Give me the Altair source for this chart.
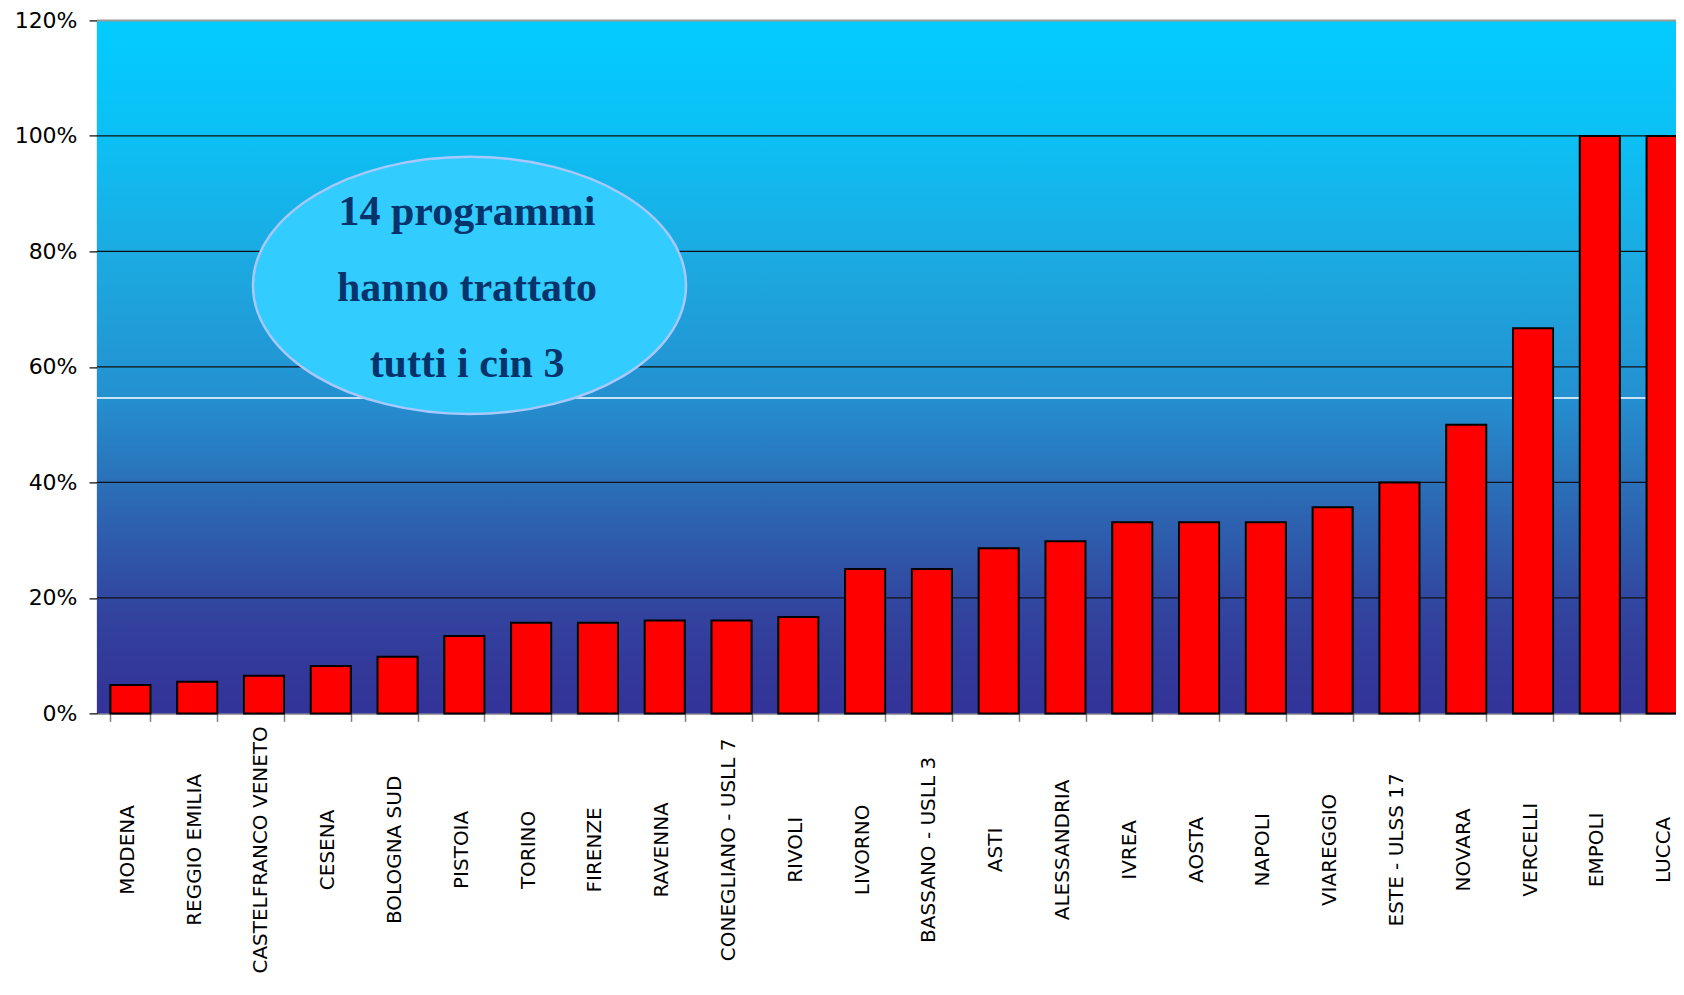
import altair as alt
import pandas as pd

categories = ["MODENA", "REGGIO EMILIA", "CASTELFRANCO VENETO", "CESENA", "BOLOGNA SUD",
              "PISTOIA", "TORINO", "FIRENZE", "RAVENNA", "CONEGLIANO - USLL 7", "RIVOLI",
              "LIVORNO", "BASSANO - USLL 3", "ASTI", "ALESSANDRIA", "IVREA", "AOSTA",
              "NAPOLI", "VIAREGGIO", "ESTE - ULSS 17", "NOVARA", "VERCELLI", "EMPOLI", "LUCCA"]
values = [0.049, 0.055, 0.065, 0.082, 0.098, 0.134, 0.157, 0.157, 0.161, 0.161, 0.167,
          0.25, 0.25, 0.286, 0.298, 0.331, 0.331, 0.331, 0.357, 0.40, 0.50, 0.667, 1.0, 1.0]
y_ticks = [0, 0.2, 0.4, 0.6, 0.8, 1.0, 1.2]
grid_values = [0.2, 0.4, 0.6, 0.8, 1.0]
light_line = [0.546]
note_lines = ["14 programmi", "hanno trattato", "tutti i cin 3"]

W = 1579
H = 693
X_RANGE = 1603

df = pd.DataFrame({"programma": categories, "valore": values})

yscale = alt.Scale(domain=[0, 1.2], nice=False)
yaxis = alt.Axis(
    title=None, values=y_ticks, format=".0%", grid=False,
    labelFont="DejaVu Sans", labelFontSize=22, labelColor="#000000",
    labelPadding=12, tickSize=8, tickColor="#000000", tickWidth=1.2,
    domainColor="#000000", domainWidth=1.2,
)

gradient = alt.LinearGradient(
    gradient="linear", x1=0, x2=0, y1=0, y2=1,
    stops=[
        alt.GradientStop(offset=0.0, color="#02CCFF"),
        alt.GradientStop(offset=0.167, color="#0CC0F4"),
        alt.GradientStop(offset=0.335, color="#1BABE2"),
        alt.GradientStop(offset=0.544, color="#2490D0"),
        alt.GradientStop(offset=0.667, color="#2B70B8"),
        alt.GradientStop(offset=0.833, color="#3147A0"),
        alt.GradientStop(offset=0.92, color="#333A99"),
        alt.GradientStop(offset=1.0, color="#333399"),
    ],
)

one = alt.Data(values=[{}])

background = alt.Chart(one).mark_rect(color=gradient).encode(
    x=alt.value(0), x2=alt.value(W),
    y=alt.datum(0, type="quantitative", scale=yscale, axis=yaxis),
    y2=alt.datum(1.2),
)

white_line = alt.Chart(pd.DataFrame({"v": light_line})).mark_rule(
    color="#FFFFFF", strokeWidth=1.5
).encode(y=alt.Y("v:Q", scale=yscale, axis=yaxis))

grid = alt.Chart(pd.DataFrame({"v": grid_values})).mark_rule(
    color="#111111", strokeWidth=1.2
).encode(y=alt.Y("v:Q", scale=yscale, axis=yaxis))

top_rule = alt.Chart(one).mark_rule(color="#999999", strokeWidth=2).encode(
    y=alt.datum(1.2, type="quantitative", scale=yscale, axis=yaxis)
)

bars = alt.Chart(df).mark_bar(
    color="#FF0000", stroke="#000000", strokeWidth=2, clip=False
).encode(
    x=alt.X(
        "programma:N", sort=None,
        scale=alt.Scale(range=[0, X_RANGE], paddingInner=0.4, paddingOuter=0.2),
        axis=alt.Axis(
            title=None, labelAngle=270, labelAlign="center", labelBaseline="middle",
            labelPadding=128, labelOffset=-3, labelLimit=500, labelOverlap=False,
            labelFlush=False, labelFont="DejaVu Sans", labelFontSize=20,
            labelColor="#000000",
            tickBand="extent", tickSize=8, tickColor="#808080", tickWidth=1.5,
            domainColor="#808080", domainWidth=1.5, grid=False,
        ),
    ),
    y=alt.Y("valore:Q", scale=yscale, axis=yaxis),
)

k = 0.5523
r = 0.594
ellipse_path = (
    f"M 1 0 C 1 {k*r:.4f} {k:.4f} {r} 0 {r} "
    f"C {-k:.4f} {r} -1 {k*r:.4f} -1 0 "
    f"C -1 {-k*r:.4f} {-k:.4f} {-r} 0 {-r} "
    f"C {k:.4f} {-r} 1 {-k*r:.4f} 1 0 Z"
)

ellipse = alt.Chart(one).mark_point(
    shape=ellipse_path, filled=True, fill="#33CCFF", stroke="#A8C8FF",
    strokeWidth=2.5, opacity=1, size=433 * 433,
).encode(x=alt.value(372.5), y=alt.value(265))

note = alt.Chart(one).mark_text(
    text=note_lines, font="Liberation Serif", fontWeight="bold", fontSize=42,
    color="#06336A", align="center", baseline="alphabetic", lineHeight=76,
).encode(x=alt.value(370), y=alt.value(204.6))

chart = alt.layer(background, white_line, grid, top_rule, bars, ellipse, note).properties(
    width=W, height=H,
    autosize=alt.AutoSizeParams(type="none"),
    padding={"left": 89, "top": 12.4, "right": 0, "bottom": 264},
    background="#FFFFFF",
).configure_view(stroke=None)

chart.save("out.html", embed_options={"renderer": "svg", "actions": False})
